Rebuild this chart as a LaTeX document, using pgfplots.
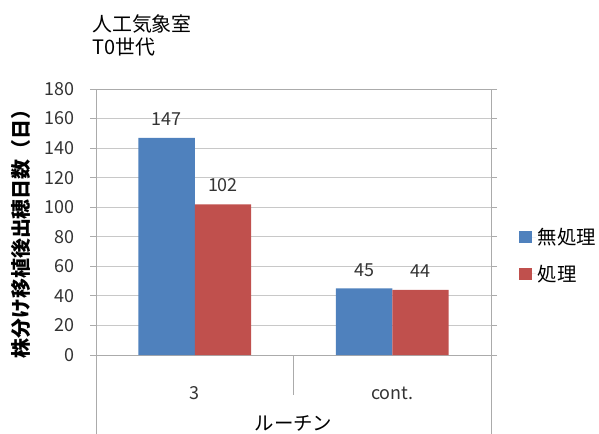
\documentclass[border=0pt]{standalone}
\usepackage{fontspec}
\setmainfont{Noto Sans CJK JP}
\usepackage{pgfplots}
\pgfplotsset{compat=1.18}
\definecolor{xblue}{HTML}{4F81BD}
\definecolor{xred}{HTML}{C0504D}
\definecolor{gridc}{HTML}{C8C8C8}
\definecolor{axc}{HTML}{ABABAB}
\begin{document}
\begin{tikzpicture}
\useasboundingbox (0,0) rectangle (599bp,434bp);
\node[anchor=west, inner sep=0pt, font=\fontsize{20}{24}\selectfont] at (92bp,410bp) {人工気象室};
\node[anchor=west, inner sep=0pt, font=\fontsize{20}{24}\selectfont] at (92bp,387bp) {T0世代};
\node[rotate=90, inner sep=0pt, font=\fontsize{20}{24}\selectfont\bfseries] at (21bp,205bp) {株分け移植後出穂日数（日）};
\begin{axis}[
  at={(96bp,79bp)}, anchor=south west,
  scale only axis, width=395bp, height=266bp,
  ybar=0pt, bar width=56.4bp,
  xmin=-0.5, xmax=1.5, ymin=0, ymax=180,
  xtick={0,1}, xticklabels={3,cont.},
  ytick={0,20,...,180},
  axis line style={axc, line width=0.8bp},
  ymajorgrids, grid style={gridc, line width=0.8bp},
  tick align=outside, major tick length=6bp,
  xtick style={draw=none}, ytick style={axc, line width=0.8bp},
  tick label style={font=\fontsize{18}{21}\selectfont, text=black!80},
  yticklabel style={xshift=-12bp},
  xticklabel style={anchor=center, yshift=-32bp},
  /pgf/number format/assume math mode=true,
  clip=false,
  nodes near coords,
  nodes near coords style={font=\fontsize{18}{21}\selectfont, text=black!80, anchor=south, inner sep=0pt, yshift=12bp},
  legend style={at={(1.07,0.374)}, anchor=west, draw=none, fill=none,
    font=\fontsize{19.5}{23}\selectfont, row sep=15bp, inner sep=0pt},
  legend cell align=left,
  legend image code/.code={\fill[#1] (0bp,-6bp) rectangle (13bp,6bp); \path (0bp,0bp) -- (17bp,0bp);},
  xlabel={ルーチン},
  xlabel style={at={(axis description cs:0.5,0)}, anchor=center, yshift=-68bp, font=\fontsize{19.5}{23}\selectfont},
]
\addplot[fill=xblue, draw=none] coordinates {(0,147) (1,45)};
\addplot[fill=xred, draw=none] coordinates {(0,102) (1,44)};
\legend{無処理,処理}
\draw[axc, line width=0.8bp] (rel axis cs:0,0) -- ++(0bp,-80bp);
\draw[axc, line width=0.8bp] (rel axis cs:1,0) -- ++(0bp,-80bp);
\draw[axc, line width=0.8bp] (axis cs:0.5,0) -- ++(0bp,-40bp);
\end{axis}
\end{tikzpicture}
\end{document}
